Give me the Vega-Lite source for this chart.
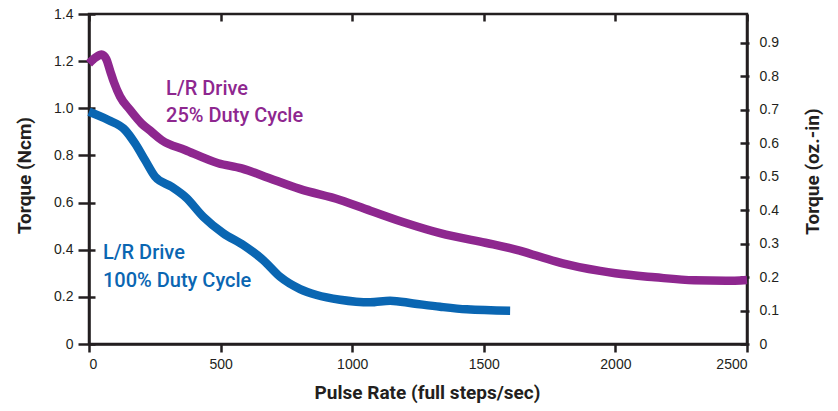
{
  "$schema": "https://vega.github.io/schema/vega-lite/v6.json",
  "autosize": {"type": "none"},
  "width": 658,
  "height": 330,
  "padding": {"left": 89, "top": 14, "right": 91, "bottom": 67},
  "background": "white",
  "config": {
    "view": {"stroke": "#231f20", "strokeWidth": 2.5},
    "axis": {
      "domainColor": "#231f20", "domainWidth": 2.5, "tickColor": "#231f20", "tickWidth": 2.5,
      "labelFont": "Liberation Sans", "labelFontSize": 14, "labelColor": "#231f20",
      "titleFont": "Roboto", "titleFontSize": 19, "titleFontWeight": "bold", "titleColor": "#231f20",
      "grid": false
    }
  },
  "datasets": {
    "curves": [
      {"rate": 0, "torque": 1.19, "series": "25%"},
      {"rate": 25, "torque": 1.215, "series": "25%"},
      {"rate": 48, "torque": 1.228, "series": "25%"},
      {"rate": 65, "torque": 1.21, "series": "25%"},
      {"rate": 80, "torque": 1.16, "series": "25%"},
      {"rate": 95, "torque": 1.11, "series": "25%"},
      {"rate": 118, "torque": 1.05, "series": "25%"},
      {"rate": 156, "torque": 0.993, "series": "25%"},
      {"rate": 200, "torque": 0.935, "series": "25%"},
      {"rate": 238, "torque": 0.9, "series": "25%"},
      {"rate": 276, "torque": 0.865, "series": "25%"},
      {"rate": 365, "torque": 0.823, "series": "25%"},
      {"rate": 491, "torque": 0.767, "series": "25%"},
      {"rate": 580, "torque": 0.745, "series": "25%"},
      {"rate": 669, "torque": 0.71, "series": "25%"},
      {"rate": 800, "torque": 0.658, "series": "25%"},
      {"rate": 954, "torque": 0.611, "series": "25%"},
      {"rate": 1080, "torque": 0.561, "series": "25%"},
      {"rate": 1207, "torque": 0.512, "series": "25%"},
      {"rate": 1334, "torque": 0.47, "series": "25%"},
      {"rate": 1486, "torque": 0.434, "series": "25%"},
      {"rate": 1536, "torque": 0.423, "series": "25%"},
      {"rate": 1625, "torque": 0.399, "series": "25%"},
      {"rate": 1714, "torque": 0.37, "series": "25%"},
      {"rate": 1800, "torque": 0.342, "series": "25%"},
      {"rate": 1942, "torque": 0.31, "series": "25%"},
      {"rate": 2000, "torque": 0.3, "series": "25%"},
      {"rate": 2150, "torque": 0.283, "series": "25%"},
      {"rate": 2300, "torque": 0.27, "series": "25%"},
      {"rate": 2420, "torque": 0.268, "series": "25%"},
      {"rate": 2500, "torque": 0.272, "series": "25%"},
      {"rate": 0, "torque": 0.985, "series": "100%"},
      {"rate": 73, "torque": 0.95, "series": "100%"},
      {"rate": 137, "torque": 0.908, "series": "100%"},
      {"rate": 175, "torque": 0.851, "series": "100%"},
      {"rate": 213, "torque": 0.78, "series": "100%"},
      {"rate": 251, "torque": 0.71, "series": "100%"},
      {"rate": 314, "torque": 0.667, "series": "100%"},
      {"rate": 368, "torque": 0.622, "series": "100%"},
      {"rate": 434, "torque": 0.54, "series": "100%"},
      {"rate": 510, "torque": 0.47, "series": "100%"},
      {"rate": 586, "torque": 0.42, "series": "100%"},
      {"rate": 662, "torque": 0.356, "series": "100%"},
      {"rate": 726, "torque": 0.285, "series": "100%"},
      {"rate": 802, "torque": 0.233, "series": "100%"},
      {"rate": 865, "torque": 0.208, "series": "100%"},
      {"rate": 954, "torque": 0.188, "series": "100%"},
      {"rate": 1068, "torque": 0.177, "series": "100%"},
      {"rate": 1144, "torque": 0.184, "series": "100%"},
      {"rate": 1232, "torque": 0.172, "series": "100%"},
      {"rate": 1334, "torque": 0.158, "series": "100%"},
      {"rate": 1435, "torque": 0.147, "series": "100%"},
      {"rate": 1600, "torque": 0.141, "series": "100%"}
    ],
    "notes": [
      {"rate": 293, "torque": 1.056, "label": "L/R Drive", "series": "25%"},
      {"rate": 293, "torque": 0.942, "label": "25% Duty Cycle", "series": "25%"},
      {"rate": 53, "torque": 0.361, "label": "L/R Drive", "series": "100%"},
      {"rate": 53, "torque": 0.242, "label": "100% Duty Cycle", "series": "100%"}
    ]
  },
  "layer": [
    {
      "data": {"name": "curves"},
      "mark": {"type": "line", "strokeWidth": 8.5, "interpolate": "monotone", "strokeCap": "butt"},
      "encoding": {
        "x": {"field": "rate", "type": "quantitative", "scale": {"domain": [0, 2500], "nice": false},
          "axis": {"title": "Pulse Rate (full steps/sec)", "values": [0, 500, 1000, 1500, 2000, 2500], "format": "d",
            "tickSize": 8, "labelPadding": 5, "titleX": 338, "titleY": 48, "titleBaseline": "middle", "titleAlign": "center"}},
        "y": {"field": "torque", "type": "quantitative", "scale": {"domain": [0, 1.4], "nice": false},
          "axis": {"orient": "left", "title": "Torque (Ncm)", "values": [0, 0.2, 0.4, 0.6, 0.8, 1.0, 1.2, 1.4],
            "labelExpr": "datum.value == 0 ? '0' : format(datum.value, '.1f')",
            "tickSize": 11, "labelPadding": 5, "titleX": -65, "titleY": 161, "titleAngle": -90, "titleBaseline": "middle", "titleAlign": "center"}},
        "color": {"field": "series", "type": "nominal", "scale": {"domain": ["25%", "100%"], "range": ["#8E278F", "#0A66B2"]}, "legend": null},
        "detail": {"field": "series"}
      }
    },
    {
      "data": {"name": "notes"},
      "mark": {"type": "text", "align": "left", "baseline": "alphabetic", "font": "Roboto", "fontWeight": 500, "fontSize": 20},
      "encoding": {
        "x": {"field": "rate", "type": "quantitative", "scale": {"domain": [0, 2500], "nice": false}, "axis": null},
        "y": {"field": "torque", "type": "quantitative", "scale": {"domain": [0, 1.4], "nice": false}, "axis": null},
        "text": {"field": "label"},
        "color": {"field": "series", "type": "nominal", "scale": {"domain": ["25%", "100%"], "range": ["#8E278F", "#0A66B2"]}, "legend": null}
      }
    },
    {
      "data": {"name": "curves"},
      "mark": {"type": "point", "opacity": 0},
      "encoding": {
        "x": {"field": "rate", "type": "quantitative", "scale": {"domain": [0, 2500], "nice": false},
          "axis": {"title": null, "labels": false, "domain": false, "values": [0, 500, 1000, 1500, 2000, 2500], "tickSize": -7}},
        "y": {"field": "torque", "type": "quantitative", "scale": {"domain": [0, 1.4], "nice": false},
          "axis": {"orient": "left", "title": null, "labels": false, "domain": false, "values": [0, 0.2, 0.4, 0.6, 0.8, 1.0, 1.2, 1.4], "tickSize": -6}}
      }
    },
    {
      "data": {"values": [{}]},
      "mark": {"type": "point", "opacity": 0},
      "encoding": {
        "y": {"datum": 0, "type": "quantitative", "scale": {"domain": [0, 0.986], "nice": false},
          "axis": {"orient": "right", "title": "Torque (oz.-in)", "values": [0, 0.1, 0.2, 0.3, 0.4, 0.5, 0.6, 0.7, 0.8, 0.9],
            "labelExpr": "datum.value == 0 ? '0' : format(datum.value, '.1f')",
            "tickSize": 2, "labelPadding": 10, "titleX": 65, "titleY": 157, "titleAngle": -90, "titleBaseline": "middle", "titleAlign": "center"}}
      }
    },
    {
      "data": {"values": [{}]},
      "mark": {"type": "point", "opacity": 0},
      "encoding": {
        "y": {"datum": 0, "type": "quantitative", "scale": {"domain": [0, 0.986], "nice": false},
          "axis": {"orient": "right", "title": null, "labels": false, "domain": false, "values": [0, 0.1, 0.2, 0.3, 0.4, 0.5, 0.6, 0.7, 0.8, 0.9], "tickSize": -7}}
      }
    }
  ],
  "resolve": {"scale": {"y": "independent"}, "axis": {"x": "independent", "y": "independent"}}
}
